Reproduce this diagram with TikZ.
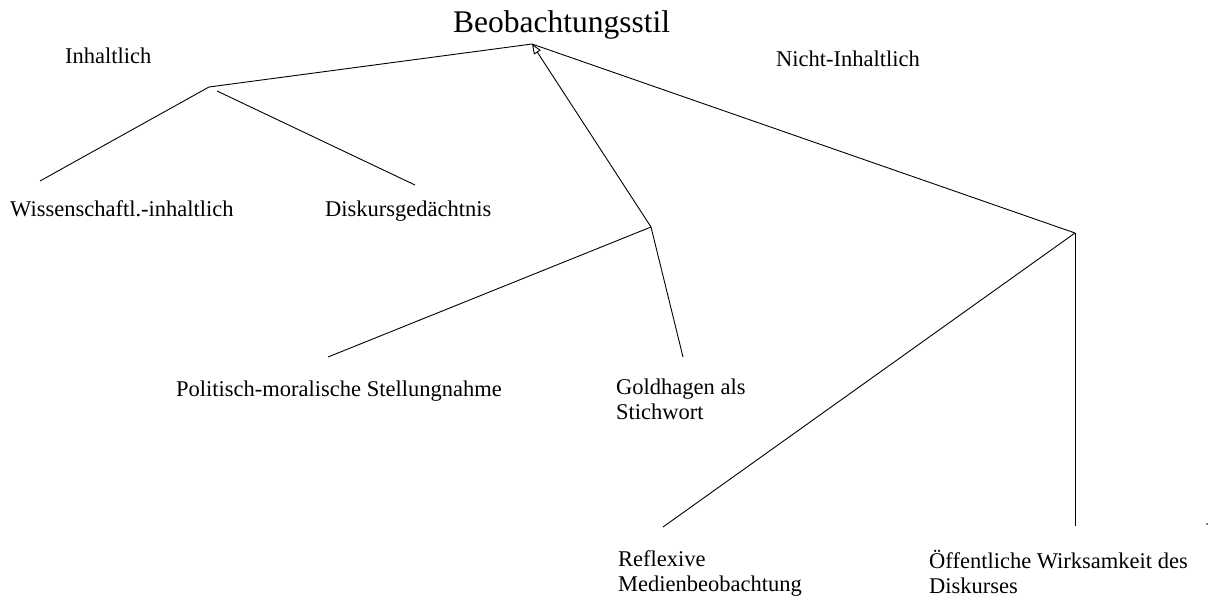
\documentclass[tikz,border=0pt]{standalone}
\usepackage{fontspec}
\setmainfont{Liberation Serif}
\usetikzlibrary{arrows.meta}
\begin{document}
\begin{tikzpicture}[x=1pt,y=-1pt,
  lbl/.style={anchor=base west,inner sep=0pt,font=\fontsize{22.5}{25}\selectfont,align=left},
  ttl/.style={anchor=base west,inner sep=0pt,font=\fontsize{31.5}{36}\selectfont},
  edge/.style={draw=black,line width=0.9pt}]
\useasboundingbox (0,0) rectangle (1213,599);
% texts
\node[ttl] (root) at (453,33) {Beobachtungsstil};
\node[lbl] (inh) at (65,64) {Inhaltlich};
\node[lbl] (ninh) at (776,67) {Nicht-Inhaltlich};
\node[lbl] (wiss) at (10,216) {Wissenschaftl.-inhaltlich};
\node[lbl] (disk) at (325,216) {Diskursged\"achtnis};
\node[lbl] (pol) at (176,396) {Politisch-moralische Stellungnahme};
\node[lbl] (gold) at (616,419) {Goldhagen als\\Stichwort};
\node[lbl] (refl) at (618,591) {Reflexive\\Medienbeobachtung};
\node[lbl] (oeff) at (929,593) {\"Offentliche Wirksamkeit des\\Diskurses};
% junctions and ends
\coordinate (jr) at (532,44);
\coordinate (jl) at (209,87);
\coordinate (jl2) at (217,91);
\coordinate (jm) at (651,227);
\coordinate (jn) at (1075,233);
\coordinate (ewiss) at (40,181);
\coordinate (edisk) at (415,185);
\coordinate (epol) at (328,357);
\coordinate (egold) at (683,357);
\coordinate (erefl) at (663,527);
\coordinate (eoeff) at (1075,526);
\coordinate (dot) at (1207,524);
% connectors
\draw[edge] (jr) -- (jl);
\draw[edge] (jr) -- (jn);
\draw[edge,{Triangle[open,length=10pt,width=8pt]}-] (jr) -- (jm);
\draw[edge] (jl) -- (ewiss);
\draw[edge] (jl2) -- (edisk);
\draw[edge] (jm) -- (epol);
\draw[edge] (jm) -- (egold);
\draw[edge] (jn) -- (erefl);
\draw[edge] (jn) -- (eoeff);
\fill (dot) circle (0.9);
\end{tikzpicture}
\end{document}
